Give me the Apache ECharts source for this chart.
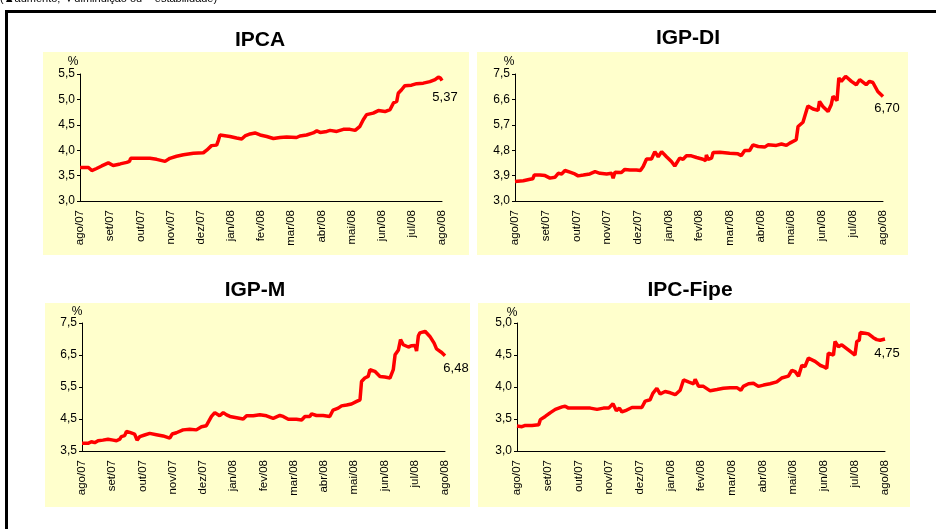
<!DOCTYPE html>
<html>
<head>
<meta charset="utf-8">
<script src="https://cdn.jsdelivr.net/npm/echarts@6/dist/echarts.min.js"></script>
<style>
html,body{margin:0;padding:0;background:#fff;}
#c{width:936px;height:529px;}
</style>
</head>
<body>
<div id="c"></div>
<script>
// ---- tick labels ----
var monthLabels = ['ago/07','set/07','out/07','nov/07','dez/07','jan/08','fev/08','mar/08','abr/08','mai/08','jun/08','jul/08','ago/08'];

// ---- IPCA ----
var ipcaT = [0,0.28,0.39,0.55,0.72,0.94,1.10,1.33,1.55,1.64,1.68,2.32,2.54,2.82,2.98,3.20,3.43,3.76,4.09,4.20,4.36,4.53,4.59,4.64,4.97,5.19,5.36,5.47,5.64,5.80,5.97,6.19,6.41,6.63,6.85,7.18,7.29,7.51,7.73,7.85,7.96,8.18,8.29,8.51,8.73,8.95,9.12,9.28,9.39,9.50,9.72,9.89,10.11,10.28,10.39,10.50,10.55,10.66,10.77,10.99,11.16,11.38,11.60,11.77,11.88,11.95,12.0];
var ipcaV = [3.66,3.66,3.60,3.64,3.69,3.75,3.70,3.73,3.76,3.78,3.84,3.84,3.82,3.78,3.84,3.88,3.91,3.94,3.95,4.00,4.09,4.10,4.20,4.30,4.27,4.24,4.22,4.28,4.32,4.34,4.30,4.27,4.23,4.25,4.26,4.25,4.28,4.30,4.34,4.38,4.35,4.37,4.39,4.37,4.41,4.41,4.39,4.47,4.60,4.70,4.73,4.78,4.76,4.80,4.93,4.96,5.12,5.19,5.27,5.28,5.31,5.32,5.35,5.39,5.44,5.42,5.37];

// ---- IGP-DI ----
var igpdiT = [0,0.27,0.49,0.58,0.63,0.81,0.98,1.14,1.30,1.41,1.52,1.63,1.79,1.95,2.06,2.23,2.44,2.61,2.77,2.99,3.15,3.20,3.26,3.47,3.58,3.75,3.96,4.09,4.18,4.29,4.45,4.56,4.67,4.78,4.94,5.10,5.21,5.37,5.48,5.59,5.75,5.92,6.13,6.22,6.24,6.30,6.41,6.46,6.68,7.00,7.27,7.38,7.49,7.65,7.76,7.93,8.14,8.25,8.52,8.69,8.85,8.96,9.17,9.23,9.39,9.55,9.72,9.88,9.93,10.04,10.21,10.31,10.37,10.50,10.56,10.64,10.78,10.97,11.13,11.24,11.45,11.56,11.67,11.83,12.0];
var igpdiV = [3.69,3.72,3.77,3.79,3.92,3.92,3.90,3.81,3.84,3.98,3.96,4.08,4.02,3.96,3.89,3.92,3.96,4.04,3.98,3.96,3.98,3.81,4.02,4.01,4.12,4.10,4.10,4.08,4.22,4.49,4.49,4.75,4.57,4.75,4.57,4.40,4.24,4.52,4.48,4.60,4.60,4.54,4.48,4.43,4.63,4.48,4.52,4.72,4.73,4.69,4.67,4.61,4.79,4.79,4.99,4.93,4.91,4.99,4.97,5.02,4.97,5.05,5.17,5.64,5.79,6.37,6.26,6.21,6.53,6.35,6.17,6.41,6.71,6.56,7.36,7.24,7.42,7.24,7.12,7.30,7.12,7.24,7.20,6.88,6.70];

// ---- IGP-M ----
var igpmT = [0,0.20,0.31,0.42,0.53,0.69,0.86,1.03,1.14,1.25,1.30,1.41,1.47,1.58,1.74,1.82,1.91,2.07,2.24,2.46,2.68,2.90,2.98,3.12,3.34,3.56,3.78,3.95,4.11,4.28,4.39,4.55,4.67,4.78,4.89,5.11,5.33,5.44,5.66,5.88,6.10,6.32,6.54,6.65,6.82,7.09,7.26,7.37,7.53,7.59,7.75,7.97,8.19,8.30,8.47,8.58,8.75,8.91,9.08,9.19,9.24,9.35,9.46,9.52,9.68,9.85,10.01,10.18,10.29,10.35,10.46,10.53,10.62,10.79,10.90,11.01,11.06,11.12,11.17,11.34,11.50,11.64,11.72,11.89,12.0];
var igpmV = [3.74,3.74,3.79,3.76,3.82,3.84,3.87,3.84,3.82,3.87,3.95,3.98,4.11,4.08,4.03,3.84,3.95,4.00,4.05,4.01,3.97,3.90,4.03,4.07,4.16,4.18,4.16,4.26,4.29,4.58,4.70,4.60,4.70,4.63,4.58,4.54,4.50,4.60,4.60,4.63,4.60,4.52,4.61,4.58,4.49,4.49,4.47,4.58,4.58,4.66,4.61,4.61,4.58,4.78,4.84,4.91,4.94,4.97,5.05,5.10,5.67,5.78,5.83,6.04,5.99,5.83,5.81,5.78,6.04,6.51,6.66,6.98,6.82,6.75,6.79,6.80,6.62,7.10,7.19,7.24,7.08,6.87,6.69,6.58,6.48];

// ---- IPC-Fipe ----
var fipeT = [0,0.16,0.27,0.49,0.71,0.76,0.92,1.09,1.25,1.36,1.47,1.57,1.68,1.95,2.39,2.61,2.82,2.99,3.13,3.24,3.34,3.42,3.58,3.75,4.07,4.18,4.34,4.43,4.56,4.67,4.83,5.00,5.16,5.32,5.43,5.59,5.76,5.81,5.92,6.08,6.30,6.52,6.73,6.95,7.17,7.30,7.38,7.55,7.71,7.87,8.04,8.25,8.47,8.63,8.85,8.96,9.07,9.18,9.29,9.39,9.50,9.72,9.88,9.99,10.10,10.15,10.32,10.37,10.48,10.59,10.75,10.91,11.02,11.08,11.16,11.19,11.35,11.46,11.62,11.73,11.84,12.0];
var fipeV = [3.39,3.38,3.40,3.40,3.41,3.49,3.54,3.60,3.65,3.67,3.69,3.70,3.67,3.67,3.67,3.65,3.67,3.67,3.74,3.63,3.67,3.61,3.64,3.68,3.68,3.78,3.80,3.90,3.98,3.89,3.93,3.91,3.88,3.95,4.11,4.08,4.05,4.12,4.01,4.01,3.94,3.96,3.98,3.99,3.99,3.95,4.01,4.05,4.06,4.01,4.03,4.05,4.08,4.14,4.17,4.26,4.24,4.17,4.34,4.32,4.45,4.40,4.34,4.32,4.29,4.53,4.50,4.71,4.63,4.66,4.60,4.54,4.50,4.71,4.73,4.85,4.84,4.83,4.77,4.74,4.73,4.75];

var titles = ['IPCA','IGP-DI','IGP-M','IPC-Fipe'];
var yMins = [3.0, 3.0, 3.5, 3.0];
var yMaxs = [5.5, 7.5, 7.5, 5.0];
var yIntervals = [0.5, 0.9, 1.0, 0.5];
var seriesT = [ipcaT, igpdiT, igpmT, fipeT];
var seriesV = [ipcaV, igpdiV, igpmV, fipeV];

// ---- layout (pixels) ----
var grids = [
  {left:80, top:74, width:362, height:127},
  {left:515, top:74, width:368, height:127},
  {left:82, top:323, width:363, height:128},
  {left:517, top:323, width:368, height:128}
];
var panels = [
  {x:43, y:52, w:426, h:203},
  {x:477, y:52, w:431, h:203},
  {x:45, y:303, w:425, h:204},
  {x:478, y:303, w:432, h:204}
];
var titlePos = [[260,40],[688,38],[255,290],[690,290]];
var pctPos = [[73,62],[509,62],[77,312],[512,313]];
var endOffsets = [[3,5],[4,0],[11,1],[2,2]];

var FONT = '"Liberation Sans", Arial, sans-serif';

function fmtComma(v, d){ return v.toFixed(d).replace('.', ','); }

var graphic = [];
panels.forEach(function(p){
  graphic.push({type:'rect', z:-10, shape:{x:p.x,y:p.y,width:p.w,height:p.h}, style:{fill:'#FFFFCC'}, silent:true});
});
graphic.push({type:'rect', z:-5, shape:{x:6.5,y:11.5,width:960,height:600}, style:{fill:'none', stroke:'#000', lineWidth:3}, silent:true});
graphic.push({type:'text', x:0, y:-7, style:{text:'(\u25B2aumento; \u25BCdiminui\u00E7\u00E3o ou = estabilidade)', font:'11px '+FONT, fill:'#000', textAlign:'left', textVerticalAlign:'top'}});
titles.forEach(function(t,i){
  graphic.push({type:'text', x:titlePos[i][0], y:titlePos[i][1], style:{text:t, font:'bold 21px '+FONT, fill:'#000', textAlign:'center', textVerticalAlign:'middle'}});
  graphic.push({type:'text', x:pctPos[i][0], y:pctPos[i][1], style:{text:'%', font:'12px '+FONT, fill:'#000', textAlign:'center', textVerticalAlign:'middle'}});
});

var xAxes = [], yAxes = [], series = [];
for (var i=0;i<4;i++){
  xAxes.push({
    type:'value', gridIndex:i, min:0, max:12, interval:1,
    axisLine:{show:true, onZero:false, lineStyle:{color:'#000', width:1}},
    axisTick:{show:false},
    splitLine:{show:false},
    axisLabel:{rotate:90, margin:9, fontSize:11.5, fontFamily:FONT, color:'#000',
      formatter:function(v){ return monthLabels[Math.round(v)]; }}
  });
  yAxes.push({
    type:'value', gridIndex:i, min:yMins[i], max:yMaxs[i], interval:yIntervals[i],
    axisLine:{show:true, lineStyle:{color:'#000', width:1}},
    axisTick:{show:true, length:3, inside:false, lineStyle:{color:'#000'}},
    splitLine:{show:false},
    axisLabel:{margin:5, fontSize:12, fontFamily:FONT, color:'#000',
      formatter:function(v){ return fmtComma(v,1); }}
  });
  var data = [];
  var T = seriesT[i], V = seriesV[i];
  for (var k=0;k<T.length;k++){
    if (k === T.length-1){
      data.push({value:[T[k],V[k]], symbol:'circle', symbolSize:1,
        itemStyle:{color:'rgba(255,0,0,0)', borderWidth:0},
        label:{show:true, position:'bottom', distance:5, offset:endOffsets[i],
        fontSize:13, fontFamily:FONT, color:'#000', opacity:1,
        formatter:function(p){ return fmtComma(p.value[1],2); }}});
    } else {
      data.push({value:[T[k],V[k]], symbol:'none'});
    }
  }
  series.push({
    type:'line', xAxisIndex:i, yAxisIndex:i, data:data,
    symbol:'circle', symbolSize:1, showSymbol:true, showAllSymbol:true,
    itemStyle:{color:'rgba(255,0,0,0)'},
    label:{show:false},
    lineStyle:{color:'#FF0000', width:3.5}, silent:true, animation:false
  });
}

var chart = echarts.init(document.getElementById('c'), null, {renderer:'canvas'});
chart.setOption({
  animation:false,
  backgroundColor:'#fff',
  grid: grids,
  xAxis: xAxes,
  yAxis: yAxes,
  series: series,
  graphic: graphic
});
</script>
</body>
</html>
